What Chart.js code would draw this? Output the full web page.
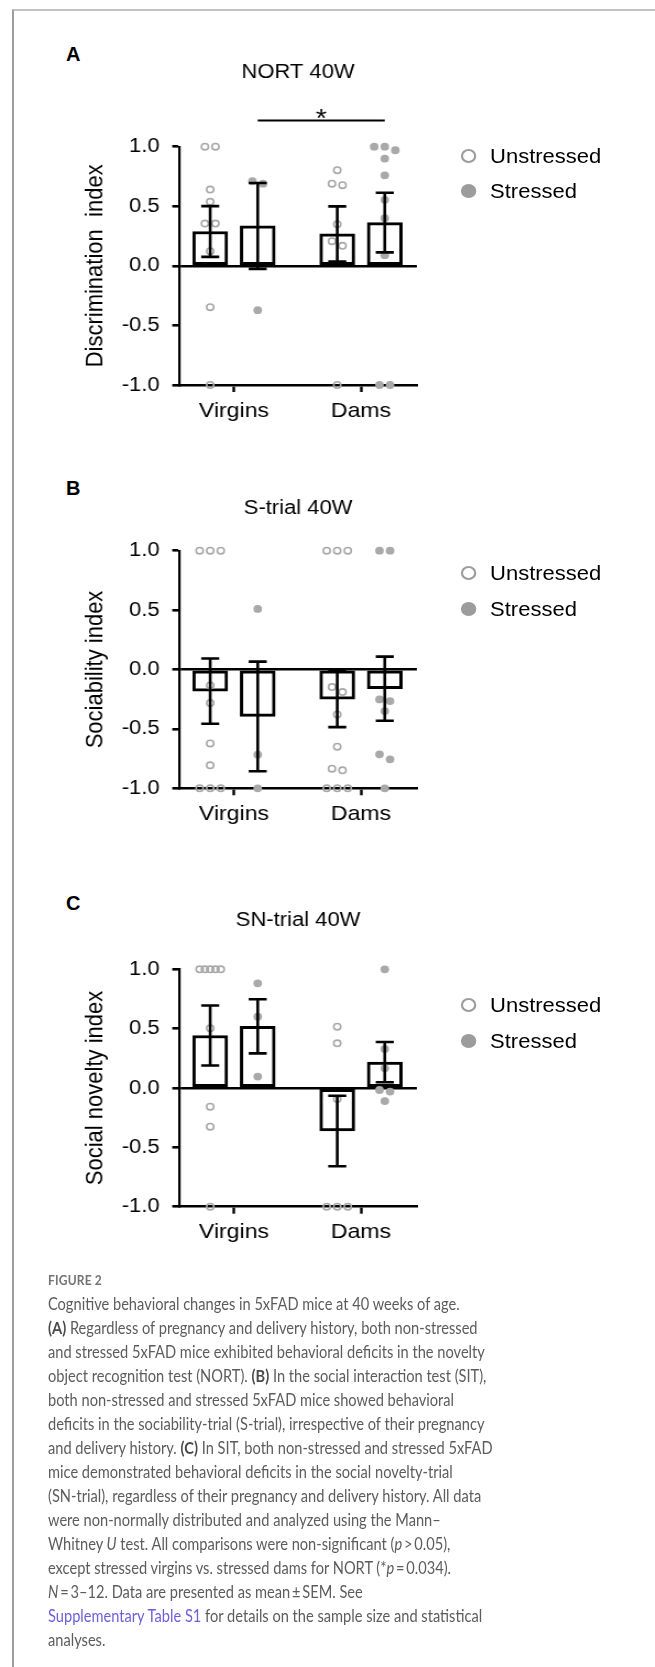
<!DOCTYPE html>
<html>
<head>
<meta charset="utf-8">
<title>Figure 2 - 5xFAD 40W</title>
<script src="https://cdn.jsdelivr.net/npm/chart.js@4.4.1/dist/chart.umd.min.js"></script>
<style>
  html, body { margin: 0; padding: 0; background: #fff; }
  body { width: 655px; height: 1667px; position: relative; overflow: hidden; font-family: 'Liberation Sans', Arial, sans-serif; }
  .frame { position: absolute; left: 12px; top: 9px; right: 0; bottom: 0; border-top: 2px solid #c2c2c2; border-left: 2px solid #9e9e9e; }
  /* the figure is a little wider than tall, so each panel is stretched sideways */
  .panel { position: absolute; left: 0; width: 596px; transform: scaleX(1.1); transform-origin: 0 0; }
  .panel canvas { position: absolute; left: 0; top: 0; }
  .letter { position: absolute; left: 66px; font: bold 20px/20px 'Liberation Sans', Arial, sans-serif; color: #000; }
  .legend { position: absolute; left: 418.5px; top: 0; font: 20px 'Liberation Sans', Arial, sans-serif; color: #000; }
  .legend div { position: absolute; left: 0; height: 24px; line-height: 24px; white-space: nowrap; padding-left: 27px; }
  .legend i { position: absolute; left: 0; top: 5px; width: 14px; height: 14px; border-radius: 50%; box-sizing: border-box; }
  .legend i.open { border: 2.4px solid #9c9c9c; background: #fff; }
  .legend i.filled { background: #9c9c9c; }
  #caption { position: absolute; left: 47.8px; top: 1268px; font-family: Lato, 'Open Sans', sans-serif; font-size: 17px; line-height: 24px; color: #5c5c5c; white-space: nowrap; transform-origin: 0 0; }
  #caption .fig { font-size: 14px; font-weight: 700; color: #737373; letter-spacing: 0.2px; }
  #caption b { color: #4a4a4a; }
  #caption .link { color: #6b5fdc; }
</style>
</head>
<body>
<div class="frame"></div>

<div class="letter" style="top:44px">A</div>
<div class="letter" style="top:477.5px">B</div>
<div class="letter" style="top:892.5px">C</div>

<div class="panel" id="panelA"></div>
<div class="panel" id="panelB"></div>
<div class="panel" id="panelC"></div>

<div id="caption">
  <div class="fig">FIGURE 2</div>
  <div><span id="capFirst">Cognitive behavioral changes in 5xFAD mice at 40 weeks of age.</span></div>
  <div><b>(A)</b> Regardless of pregnancy and delivery history, both non-stressed</div>
  <div>and stressed 5xFAD mice exhibited behavioral deficits in the novelty</div>
  <div>object recognition test (NORT). <b>(B)</b> In the social interaction test (SIT),</div>
  <div>both non-stressed and stressed 5xFAD mice showed behavioral</div>
  <div>deficits in the sociability-trial (S-trial), irrespective of their pregnancy</div>
  <div>and delivery history. <b>(C)</b> In SIT, both non-stressed and stressed 5xFAD</div>
  <div>mice demonstrated behavioral deficits in the social novelty-trial</div>
  <div>(SN-trial), regardless of their pregnancy and delivery history. All data</div>
  <div>were non-normally distributed and analyzed using the Mann&ndash;</div>
  <div>Whitney <i>U</i> test. All comparisons were non-significant (<i>p</i>&#8201;&gt;&#8201;0.05),</div>
  <div>except stressed virgins vs. stressed dams for NORT (*<i>p</i>&#8201;=&#8201;0.034).</div>
  <div><i>N</i>&#8201;=&#8201;3&ndash;12. Data are presented as mean&#8201;&plusmn;&#8201;SEM. See</div>
  <div><span class="link">Supplementary Table S1</span> for details on the sample size and statistical</div>
  <div>analyses.</div>
</div>

<script>
Chart.defaults.font.family = "'Liberation Sans', Arial, sans-serif";
Chart.defaults.color = '#000';
Chart.defaults.animation = false;

var groups = ['Virgins', 'Dams'];
var series = ['Unstressed', 'Stressed'];
var yTicks = [-1.0, -0.5, 0.0, 0.5, 1.0];

// A - NORT 40W
var nortMeanUnstressed = [0.288, 0.268];
var nortSemUnstressed = [0.213, 0.231];
var nortMeanStressed = [0.335, 0.363];
var nortSemStressed = [0.36, 0.25];
var nortVirginsUnstressed = [1.0, 1.0, 0.64, 0.537, 0.355, 0.355, 0.123, -0.347, -1.0];
var nortDamsUnstressed = [0.803, 0.69, 0.677, 0.35, 0.207, 0.168, -1.0];
var nortVirginsStressed = [0.71, 0.69, -0.372];
var nortDamsStressed = [1.0, 0.97, 1.0, 0.90, 0.76, 0.554, 0.40, 0.09, -1.0, -1.0];

// B - S-trial 40W
var sMeanUnstressed = [-0.182, -0.25];
var sSemUnstressed = [0.275, 0.235];
var sMeanStressed = [-0.395, -0.162];
var sSemStressed = [0.461, 0.27];
var sVirginsUnstressed = [1.0, 1.0, 1.0, -0.134, -0.283, -0.622, -0.807, -1.0, -1.0, -1.0];
var sDamsUnstressed = [1.0, 1.0, 1.0, -0.148, -0.19, -0.378, -0.65, -0.835, -0.849, -1.0, -1.0, -1.0];
var sVirginsStressed = [0.51, -0.717, -1.0];
var sDamsStressed = [1.0, 1.0, -0.252, -0.266, -0.35, -0.714, -0.756, -1.0];

// C - SN-trial 40W
var snMeanUnstressed = [0.442, -0.362];
var snSemUnstressed = [0.253, 0.297];
var snMeanStressed = [0.52, 0.218];
var snSemStressed = [0.228, 0.17];
var snVirginsUnstressed = [1.0, 1.0, 1.0, 1.0, 1.0, 0.503, -0.157, -0.326, -1.0];
var snDamsUnstressed = [0.517, 0.376, -0.093, -1.0, -1.0, -1.0];
var snVirginsStressed = [0.882, 0.601, 0.096];
var snDamsStressed = [1.0, 0.329, 0.166, -0.017, -0.03, -0.11];

var barShift = [-0.187, 0.187];

// spread dots that sit on (nearly) the same value side by side
function swarm(values) {
  var idx = values.map(function (v, i) { return i; });
  idx.sort(function (a, b) { return values[b] - values[a]; });
  var out = [];
  var i = 0;
  while (i < idx.length) {
    var j = i + 1;
    while (j < idx.length && values[idx[j - 1]] - values[idx[j]] < 0.06) j++;
    var n = j - i;
    var step = n > 1 ? Math.min(0.083, 0.166 / (n - 1)) : 0;
    for (var k = i; k < j; k++) out[idx[k]] = (k - i - (n - 1) / 2) * step;
    i = j;
  }
  return out;
}

function dotData(byGroup, shift) {
  var pts = [];
  byGroup.forEach(function (vals, g) {
    var jit = swarm(vals);
    vals.forEach(function (v, i) { pts.push({ x: g + shift + jit[i], y: v }); });
  });
  return pts;
}

var errorBars = {
  id: 'errorBars',
  afterDatasetsDraw: function (chart) {
    var ctx = chart.ctx, y = chart.scales.y;
    ctx.save();
    ctx.strokeStyle = '#000';
    ctx.lineWidth = 2.6;
    chart.data.datasets.forEach(function (ds, i) {
      if (!ds.sem) return;
      chart.getDatasetMeta(i).data.forEach(function (bar, j) {
        var lo = y.getPixelForValue(ds.data[j].y - ds.sem[j]);
        var hi = y.getPixelForValue(ds.data[j].y + ds.sem[j]);
        ctx.beginPath();
        ctx.moveTo(bar.x, lo); ctx.lineTo(bar.x, hi);
        ctx.moveTo(bar.x - 8.2, lo); ctx.lineTo(bar.x + 8.2, lo);
        ctx.moveTo(bar.x - 8.2, hi); ctx.lineTo(bar.x + 8.2, hi);
        ctx.stroke();
      });
    });
    ctx.restore();
  }
};

var sigBar = {
  id: 'sigBar',
  afterDraw: function (chart, args, opts) {
    if (!opts || !opts.label) return;
    var a = chart.getDatasetMeta(opts.from[0]).data[opts.from[1]];
    var b = chart.getDatasetMeta(opts.to[0]).data[opts.to[1]];
    var yy = chart.scales.y.getPixelForValue(opts.level);
    var ctx = chart.ctx;
    ctx.save();
    ctx.strokeStyle = '#000';
    ctx.lineWidth = 1.8;
    ctx.beginPath();
    ctx.moveTo(a.x, yy); ctx.lineTo(b.x, yy);
    ctx.stroke();
    ctx.fillStyle = '#000';
    ctx.font = "26px 'Liberation Sans', Arial, sans-serif";
    ctx.textAlign = 'center';
    ctx.textBaseline = 'alphabetic';
    ctx.fillText(opts.label, (a.x + b.x) / 2, yy + 7);
    ctx.restore();
  }
};

function panelChart(cfg) {
  var wrap = document.getElementById(cfg.id);
  wrap.style.top = cfg.top + 'px';
  wrap.style.height = cfg.height + 'px';
  var canvas = document.createElement('canvas');
  canvas.width = 596;
  canvas.height = cfg.height;
  wrap.appendChild(canvas);

  var legend = document.createElement('div');
  legend.className = 'legend';
  series.forEach(function (name, s) {
    var item = document.createElement('div');
    item.style.top = (cfg.legendY[s] - 12) + 'px';
    item.innerHTML = '<i class="' + (s ? 'filled' : 'open') + '"></i>' + name;
    legend.appendChild(item);
  });
  wrap.appendChild(legend);

  var barStyle = {
    type: 'bar', grouped: false, barThickness: 31.8, borderWidth: 3, borderSkipped: false,
    borderColor: '#000', backgroundColor: '#fff', order: 2
  };

  return new Chart(canvas, {
    data: {
      datasets: [
        Object.assign({ label: series[0], sem: cfg.sem[0],
          data: groups.map(function (g, i) { return { x: i + barShift[0], y: cfg.mean[0][i] }; }) }, barStyle),
        Object.assign({ label: series[1], sem: cfg.sem[1],
          data: groups.map(function (g, i) { return { x: i + barShift[1], y: cfg.mean[1][i] }; }) }, barStyle),
        { type: 'scatter', label: series[0], data: dotData(cfg.dots[0], barShift[0]), order: 1, clip: false,
          pointRadius: 3.2, borderWidth: 1.6, borderColor: '#a9a9a9', backgroundColor: 'rgba(0,0,0,0)' },
        { type: 'scatter', label: series[1], data: dotData(cfg.dots[1], barShift[1]), order: 1, clip: false,
          pointRadius: 3.9, borderWidth: 0, borderColor: '#a9a9a9', backgroundColor: '#a9a9a9' }
      ]
    },
    options: {
      responsive: false,
      animation: false,
      events: [],
      layout: { padding: { left: 0, right: 217, top: 0, bottom: cfg.padBottom } },
      plugins: {
        legend: { display: false },
        tooltip: { enabled: false },
        title: {
          display: true, text: cfg.title, fullSize: false, color: '#000',
          font: { size: 20, weight: 'normal' },
          padding: { top: cfg.titlePad[0], bottom: cfg.titlePad[1] }
        },
        sigBar: cfg.sig || false
      },
      scales: {
        x: {
          type: 'linear', min: -0.43, max: 1.44, offset: false,
          afterBuildTicks: function (s) { s.ticks = groups.map(function (g, i) { return { value: i }; }); },
          afterFit: function (s) { s.height = 50; },
          ticks: { autoSkip: false, maxRotation: 0, padding: 6.4, font: { size: 21 },
            callback: function (v) { return groups[v]; } },
          grid: { offset: false, drawOnChartArea: false, color: 'rgba(0,0,0,0)', tickColor: '#000', tickLength: 7, tickWidth: 2.4 },
          border: { color: '#000', width: 2.6 }
        },
        y: {
          min: -1, max: 1,
          afterBuildTicks: function (s) { s.ticks = yTicks.map(function (v) { return { value: v }; }); },
          afterFit: function (s) { s.width = 163; },
          ticks: { padding: 11.5, font: { size: 20 }, callback: function (v) { return v.toFixed(1); } },
          grid: {
            color: function (c) { return c.tick && c.tick.value === 0 ? '#000' : 'rgba(0,0,0,0)'; },
            lineWidth: 2.6, tickColor: '#000', tickLength: 6.4, tickWidth: 2.6
          },
          border: { color: '#000', width: 2.2 },
          title: { display: true, text: cfg.yTitle, color: '#000', font: { size: 22 }, padding: { top: 73.6, bottom: 0 } }
        }
      }
    },
    plugins: [errorBars, sigBar]
  });
}

panelChart({
  id: 'panelA', top: 30, height: 420, padBottom: 15, titlePad: [30, 62.7], legendY: [126, 161],
  title: 'NORT 40W', yTitle: 'Discrimination  index',
  mean: [nortMeanUnstressed, nortMeanStressed], sem: [nortSemUnstressed, nortSemStressed],
  dots: [[nortVirginsUnstressed, nortDamsUnstressed], [nortVirginsStressed, nortDamsStressed]],
  sig: { from: [1, 0], to: [1, 1], level: 1.22, label: '*' }
});

panelChart({
  id: 'panelB', top: 470, height: 390, padBottom: 21.7, titlePad: [26, 30.7], legendY: [103, 139],
  title: 'S-trial 40W', yTitle: 'Sociability index',
  mean: [sMeanUnstressed, sMeanStressed], sem: [sSemUnstressed, sSemStressed],
  dots: [[sVirginsUnstressed, sDamsUnstressed], [sVirginsStressed, sDamsStressed]]
});

panelChart({
  id: 'panelC', top: 880, height: 390, padBottom: 13.3, titlePad: [28, 37.3], legendY: [124.7, 160.8],
  title: 'SN-trial 40W', yTitle: 'Social novelty index',
  mean: [snMeanUnstressed, snMeanStressed], sem: [snSemUnstressed, snSemStressed],
  dots: [[snVirginsUnstressed, snDamsUnstressed], [snVirginsStressed, snDamsStressed]]
});

// squeeze the caption to the column width of the journal layout
function fitCaption() {
  var cap = document.getElementById('caption');
  cap.style.transform = 'none';
  var w = document.getElementById('capFirst').getBoundingClientRect().width;
  cap.style.transform = 'scaleX(' + (411.5 / w).toFixed(3) + ')';
}
fitCaption();
if (document.fonts && document.fonts.ready) document.fonts.ready.then(fitCaption);
</script>
</body>
</html>
